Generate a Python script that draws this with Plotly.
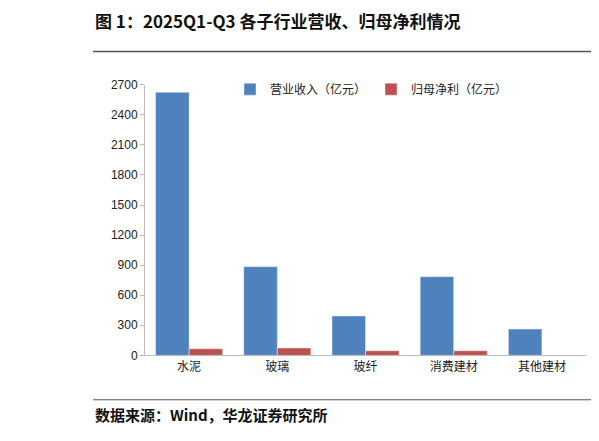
import plotly.graph_objects as go

categories = ["水泥", "玻璃", "玻纤", "消费建材", "其他建材"]
revenue = [2625, 885, 393, 785, 262]
profit = [66, 73, 46, 46, 0]
ticks = [0, 300, 600, 900, 1200, 1500, 1800, 2100, 2400, 2700]

W, H = 599, 441
fig = go.Figure()
fig.add_bar(x=categories, y=revenue, name="营业收入（亿元）", marker_color="#4f81bd")
fig.add_bar(x=categories, y=profit, name="归母净利（亿元）", marker_color="#c0504d")

def px(x): return x / W
def py(y): return 1 - ((y - 16.9) / 0.959) / H

fig.update_layout(
    width=W, height=H, paper_bgcolor="white", plot_bgcolor="white",
    margin=dict(l=0, r=0, t=0, b=0),
    font=dict(family="Noto Sans CJK SC", size=12, color="#222"),
    bargap=0.24, bargroupgap=0,
    xaxis=dict(domain=[px(137), px(578)], showline=True, linecolor="#bbb", ticks="",
               tickfont=dict(size=12)),
    yaxis=dict(domain=[py(354), py(86)], range=[0, 2700], tickvals=ticks, showgrid=False,
               showline=True, linecolor="#bbb", ticks="outside", ticklen=4, tickcolor="#bbb",
               tickfont=dict(family="Liberation Sans Narrow, Liberation Sans", size=12)),
    legend=dict(orientation="h", x=px(222), y=py(76), xanchor="left", yanchor="top",
                font=dict(size=12), itemwidth=30, bgcolor="rgba(0,0,0,0)"),
    showlegend=True,
)
fig.add_annotation(text="<b>图 1：2025Q1-Q3 各子行业营收、归母净利情况</b>", x=px(85), y=py(22),
                   xref="paper", yref="paper", xanchor="left", yanchor="middle", showarrow=False,
                   font=dict(family="Noto Sans CJK SC", size=17, color="#111"))
fig.add_annotation(text="<b>数据来源：Wind，华龙证券研究所</b>", x=px(85), y=py(413),
                   xref="paper", yref="paper", xanchor="left", yanchor="middle", showarrow=False,
                   font=dict(family="Noto Sans CJK SC", size=15, color="#111"))
fig.add_shape(type="line", xref="paper", yref="paper", x0=px(85), x1=1, y0=py(53), y1=py(53),
              line=dict(color="#555", width=1.5))
fig.add_shape(type="line", xref="paper", yref="paper", x0=px(85), x1=1, y0=py(398), y1=py(398),
              line=dict(color="#555", width=1))
fig.add_shape(type="line", xref="paper", yref="paper", x0=px(590), x1=px(590), y0=py(53), y1=py(398),
              line=dict(color="#555", width=1))
fig.write_html("out.html")
